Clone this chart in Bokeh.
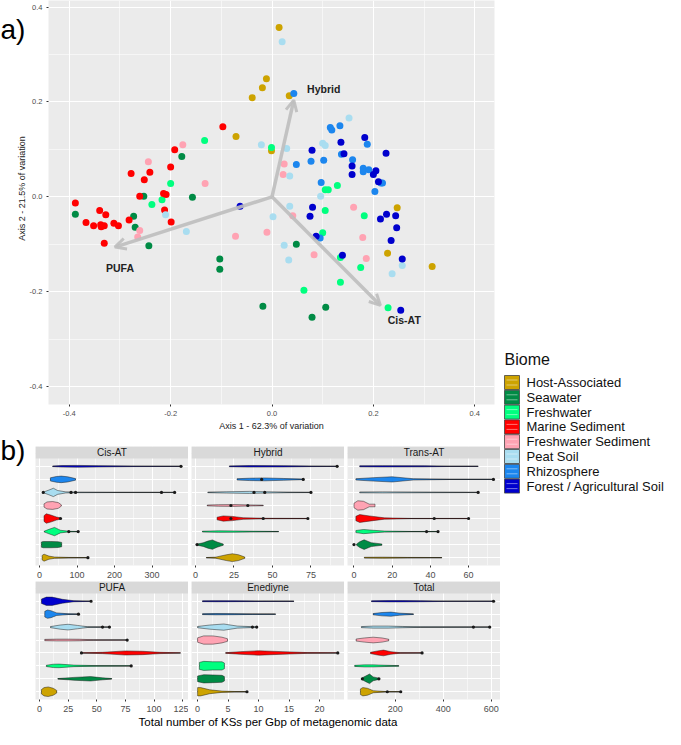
import math
from bokeh.plotting import figure
from bokeh.models import (Range1d, FixedTicker, NumeralTickFormatter, Label, Arrow, OpenHead,
                          ColumnDataSource, Spacer, Grid)
from bokeh.layouts import column, row
from bokeh.embed import file_html
from bokeh.resources import INLINE
from bokeh.core.properties import value

FONT = "Liberation Sans"

BIOMES = ["Host-Associated", "Seawater", "Freshwater", "Marine Sediment",
          "Freshwater Sediment", "Peat Soil", "Rhizosphere", "Forest / Agricultural Soil"]
COLORS = ["#CDA300", "#008B45", "#00FF7F", "#FF0000", "#FFA3B3", "#A9DDF0", "#1C86EE", "#0000CD"]

# ---------------- panel a: PCoA scores ----------------
HOST_X = [0.014, -0.011, -0.019, -0.039, 0.034, -0.071, -0.001, 0.247, 0.228, 0.316]
HOST_Y = [0.357, 0.249, 0.230, 0.209, 0.213, 0.127, 0.097, -0.023, -0.119, -0.147]
SEA_X = [-0.178, -0.253, -0.157, -0.388, -0.273, -0.270, -0.243, 0.048, -0.103, -0.103, -0.018, 0.079, 0.106]
SEA_Y = [0.085, 0.001, -0.001, -0.037, -0.041, -0.064, -0.103, -0.100, -0.131, -0.153, -0.231, -0.254, -0.233]
FRESH_X = [-0.133, -0.001, -0.200, 0.105, 0.111, 0.129, -0.237, -0.217, 0.105, 0.100, 0.063, 0.135, 0.182, 0.175, 0.229, 0.135]
FRESH_Y = [0.119, 0.104, 0.028, 0.015, 0.015, 0.024, -0.016, -0.006, -0.029, -0.076, -0.197, -0.128, -0.040, -0.149, -0.234, -0.180]
MARINE_X = [-0.097, -0.192, -0.200, -0.278, -0.241, -0.252, -0.261, -0.214, -0.209, -0.388, -0.212, -0.340,
            -0.328, -0.367, -0.352, -0.338, -0.337, -0.331, -0.312, -0.303, -0.282, -0.199, -0.331]
MARINE_Y = [0.148, 0.099, 0.063, 0.049, 0.052, 0.036, 0.001, 0.007, 0.005, -0.013, -0.028, -0.029,
            -0.038, -0.054, -0.061, -0.059, -0.063, -0.061, -0.056, -0.061, -0.049, -0.053, -0.098]
FWSED_X = [-0.176, 0.024, 0.022, -0.244, -0.132, -0.261, -0.265, 0.041, -0.010, -0.072, 0.083, 0.161, 0.179, 0.186]
FWSED_Y = [0.110, 0.069, 0.047, 0.074, 0.028, -0.071, -0.085, -0.040, -0.075, -0.083, -0.122, -0.022, -0.086, -0.130]
PEAT_X = [0.020, -0.021, 0.029, 0.035, 0.100, 0.105, 0.152, 0.096, -0.210, -0.169, 0.002, 0.035, 0.024, 0.033, 0.257, 0.237]
PEAT_Y = [0.327, 0.110, 0.102, 0.044, 0.113, 0.108, 0.166, 0.001, -0.038, -0.073, -0.042, -0.020, -0.102, -0.133, -0.145, -0.162]
RHIZO_X = [0.043, 0.048, 0.077, 0.102, 0.115, 0.118, 0.134, 0.137, 0.097, 0.188, 0.159, 0.180, 0.180, 0.191,
           0.215, 0.218, 0.203, 0.095]
RHIZO_Y = [0.218, 0.068, 0.075, 0.077, 0.146, 0.141, 0.150, 0.090, 0.030, 0.111, 0.078, 0.060, 0.053, 0.057,
           0.029, 0.029, 0.011, -0.087]
FOREST_X = [0.079, 0.136, 0.183, 0.142, 0.225, 0.158, 0.158, 0.205, 0.200, 0.210, 0.226, 0.244, 0.214, 0.246,
            0.235, 0.257, 0.254, -0.063, 0.080, 0.075, 0.087, 0.139]
FOREST_Y = [0.098, 0.115, 0.125, 0.091, 0.092, 0.065, 0.047, 0.055, 0.047, 0.032, -0.037, -0.040, -0.047, -0.065,
            -0.092, -0.131, -0.239, -0.020, -0.022, -0.041, -0.083, -0.123]

PCOA_X = [HOST_X, SEA_X, FRESH_X, MARINE_X, FWSED_X, PEAT_X, RHIZO_X, FOREST_X]
PCOA_Y = [HOST_Y, SEA_Y, FRESH_Y, MARINE_Y, FWSED_Y, PEAT_Y, RHIZO_Y, FOREST_Y]

ARROW_NAMES = ["Hybrid", "PUFA", "Cis-AT"]
ARROW_X = [0.043, -0.310, 0.214]
ARROW_Y = [0.204, -0.106, -0.229]
ARROW_LABEL_X = [0.102, -0.300, 0.261]
ARROW_LABEL_Y = [0.228, -0.150, -0.259]

AXIS_TICKS = [-0.4, -0.2, 0.0, 0.2, 0.4]
AXIS1_LIM = (-0.441, 0.439)
AXIS2_LIM = (-0.438, 0.414)
AXIS1_TITLE = "Axis 1 - 62.3% of variation"
AXIS2_TITLE = "Axis 2 - 21.5% of variation"

# ---------------- panel b: violins (rows listed top -> bottom) ----------------
# Forest, Rhizosphere, Peat Soil, Freshwater Sediment, Marine Sediment, Freshwater, Seawater, Host-Associated
FACET_NAMES = ["Cis-AT", "Hybrid", "Trans-AT", "PUFA", "Enediyne", "Total"]
FACET_LIMS = [(-10.7, 397), (-2.6, 96.8), (-3.4, 76.7), (-3.5, 130), (-1.0, 24.1), (1, 639)]
FACET_TICKS = [[0, 100, 200, 300], [0, 25, 50, 75], [0, 20, 40, 60],
               [0, 25, 50, 75, 100, 125], [0, 5, 10, 15, 20], [200, 400, 600]]

CIS_X = [[35, 60, 100, 158, 250, 377], [29, 45, 58, 75, 96], [10, 25, 37, 48, 70, 100, 200, 325, 360],
         [12, 20, 35, 50, 58], [12, 18, 30, 45, 56], [12, 25, 40, 56, 80, 103], [5, 10, 30, 50, 59],
         [7, 12, 25, 40, 78, 129]]
CIS_W = [[0.02, 0.06, 0.07, 0.05, 0.02, 0.01], [0.12, 0.22, 0.25, 0.2, 0.06],
         [0.02, 0.18, 0.32, 0.15, 0.04, 0.02, 0.01, 0.01, 0.01], [0.12, 0.27, 0.3, 0.22, 0.05],
         [0.22, 0.36, 0.27, 0.12, 0.05], [0.02, 0.17, 0.32, 0.1, 0.02, 0.01], [0.2, 0.24, 0.24, 0.22, 0.17],
         [0.17, 0.27, 0.12, 0.05, 0.02, 0.01]]
CIS_PTS = [[377], [], [10, 84, 96, 325, 360], [], [56], [78, 103], [], [129]]

HYB_X = [[22, 35, 57, 75, 92], [27, 35, 45, 57, 70], [8, 20, 35, 45, 60, 75], [7.6, 15, 25, 35, 44],
         [14, 18, 24, 31, 45, 73], [4.5, 15, 25, 36, 54], [1, 5, 8, 11, 14, 18], [7, 13, 20, 24, 28, 32]]
HYB_W = [[0.03, 0.06, 0.05, 0.02, 0.01], [0.05, 0.09, 0.11, 0.07, 0.02], [0.02, 0.05, 0.08, 0.05, 0.02, 0.01],
         [0.03, 0.06, 0.07, 0.04, 0.02], [0.1, 0.2, 0.16, 0.06, 0.02, 0.01], [0.03, 0.06, 0.05, 0.03, 0.01],
         [0.04, 0.14, 0.27, 0.36, 0.2, 0.05], [0.01, 0.04, 0.22, 0.3, 0.22, 0.05]]
HYB_PTS = [[92], [43, 70], [38, 45, 75], [23, 34], [23, 44, 73], [], [1], []]

TRANS_X = [[3, 15, 37, 50, 65], [1, 10, 20, 31, 50, 73], [3, 15, 30, 45, 65], [0, 2, 5, 8, 11],
           [1, 3, 8, 16, 30, 60], [1, 5, 10, 16, 30, 44], [1.4, 3, 5.3, 9, 14.6], [5.4, 15, 28, 46]]
TRANS_W = [[0.04, 0.05, 0.04, 0.01, 0.01], [0.05, 0.13, 0.2, 0.05, 0.01, 0.01], [0.03, 0.04, 0.03, 0.02, 0.01],
           [0.17, 0.36, 0.32, 0.1, 0.1], [0.17, 0.3, 0.2, 0.05, 0.01, 0.01], [0.08, 0.16, 0.1, 0.04, 0.01, 0.01],
           [0.05, 0.22, 0.37, 0.15, 0.05], [0.03, 0.04, 0.02, 0.01]]
TRANS_PTS = [[], [73], [65], [], [42, 60], [38, 44], [0], []]

PUFA_X = [[1.7, 6, 11, 20, 30, 45], [4.6, 7, 10, 15, 25, 34], [9.6, 18, 25, 33, 42, 55, 61],
          [4.6, 15, 25, 35, 47, 76.5], [36.6, 55, 75, 90, 105, 123], [6, 12, 17, 30, 50, 80],
          [16, 30, 44.5, 55, 63], [1.7, 4, 7.6, 12, 15]]
PUFA_W = [[0.17, 0.32, 0.32, 0.15, 0.04, 0.01], [0.22, 0.32, 0.27, 0.1, 0.03, 0.01],
          [0.04, 0.16, 0.22, 0.13, 0.03, 0.01, 0.01], [0.05, 0.07, 0.07, 0.06, 0.02, 0.01],
          [0.01, 0.05, 0.16, 0.13, 0.05, 0.01], [0.05, 0.13, 0.14, 0.06, 0.02, 0.01],
          [0.02, 0.11, 0.17, 0.08, 0.02], [0.17, 0.32, 0.37, 0.27, 0.1]]
PUFA_PTS = [[45], [34], [55, 61], [76.5], [36.6], [80], [], []]

ENE_X = [[0.8, 3, 6, 10, 15.8], [0.8, 3, 6, 9, 12.8], [0, 2, 4.3, 6.5, 9.7], [0, 1, 2.5, 4, 4.9],
         [4.6, 7, 10, 14, 18, 23], [0.3, 1, 2.5, 4, 4.4], [0, 1, 2.5, 4, 4.4], [0, 0.5, 2, 4, 6, 8.1]]
ENE_W = [[0.03, 0.04, 0.03, 0.02, 0.01], [0.03, 0.05, 0.04, 0.02, 0.01], [0.05, 0.16, 0.24, 0.08, 0.02],
         [0.17, 0.32, 0.32, 0.22, 0.1], [0.02, 0.1, 0.17, 0.1, 0.03, 0.01], [0.27, 0.35, 0.32, 0.32, 0.22],
         [0.22, 0.32, 0.3, 0.27, 0.17], [0.32, 0.32, 0.15, 0.05, 0.02, 0.01]]
ENE_PTS = [[], [], [9, 9.7], [], [23], [], [], [8.1]]

TOT_X = [[101, 170, 231, 305, 416, 610], [108, 145, 182, 219, 276], [59, 108, 170, 231, 305, 594],
         [37, 71, 108, 145, 173], [97, 127, 151, 182, 221, 312], [31, 71, 108, 157, 215],
         [63, 77, 93, 108, 132], [55, 65, 84, 109, 157, 223]]
TOT_W = [[0.03, 0.05, 0.05, 0.04, 0.01, 0.01], [0.05, 0.13, 0.16, 0.08, 0.02], [0.04, 0.08, 0.08, 0.05, 0.02, 0.01],
         [0.08, 0.16, 0.22, 0.16, 0.06], [0.05, 0.16, 0.22, 0.1, 0.02, 0.01], [0.04, 0.08, 0.08, 0.05, 0.02],
         [0.08, 0.22, 0.37, 0.15, 0.05], [0.22, 0.32, 0.27, 0.08, 0.02, 0.01]]
TOT_PTS = [[610], [], [526, 594], [], [312], [], [63, 132], [167, 223]]

FACET_X = [CIS_X, HYB_X, TRANS_X, PUFA_X, ENE_X, TOT_X]
FACET_W = [CIS_W, HYB_W, TRANS_W, PUFA_W, ENE_W, TOT_W]
FACET_PTS = [CIS_PTS, HYB_PTS, TRANS_PTS, PUFA_PTS, ENE_PTS, TOT_PTS]

X_TITLE = "Total number of KSs per Gbp of metagenomic data"
LEGEND_TITLE = "Biome"

# ---------------- layout constants (pixels) ----------------
TAG_W = 26                     # column holding "a)" and the y-axis title
A_LEFT, A_FRAME_W, A_RIGHT = 19, 449, 6
A_TOP, A_FRAME_H, A_BOTTOM = 0, 404, 30
A_H = A_TOP + A_FRAME_H + A_BOTTOM
B_TAG_W = 35
F_FRAME_W = 153
STRIP = 12
ROW_ORDER_COLORS = list(reversed(COLORS))


def style_axis(ax, size):
    ax.axis_line_color = None
    ax.major_tick_line_color = "#333333"
    ax.major_tick_out = 2
    ax.major_tick_in = 0
    ax.minor_tick_line_color = None
    ax.major_label_text_font = FONT
    ax.major_label_text_font_size = size
    ax.major_label_text_color = "#4D4D4D"
    ax.major_label_standoff = 2


def blank(w, h):
    p = figure(width=w, height=h, x_range=Range1d(0, w), y_range=Range1d(h, 0),
               output_backend="svg", toolbar_location=None, title=None,
               x_axis_location=None, y_axis_location=None, min_border=0)
    p.outline_line_color = None
    p.grid.grid_line_color = None
    p.grid.visible = False
    return p


# ---------------- panel a ----------------
pa = figure(width=A_LEFT + A_FRAME_W + A_RIGHT, height=A_H,
            x_range=Range1d(*AXIS1_LIM), y_range=Range1d(*AXIS2_LIM),
            output_backend="svg", toolbar_location=None, title=None,
            min_border_left=A_LEFT, min_border_right=A_RIGHT, min_border_top=A_TOP, min_border_bottom=A_BOTTOM)
pa.background_fill_color = "#EBEBEB"
pa.outline_line_color = None
minor_a = [t + 0.1 for t in AXIS_TICKS[:-1]]
for ax in (pa.xaxis[0], pa.yaxis[0]):
    style_axis(ax, "7.5px")
    ax.ticker = FixedTicker(ticks=AXIS_TICKS, minor_ticks=minor_a)
    ax.formatter = NumeralTickFormatter(format="0.0")
    ax.axis_label_text_font = FONT
    ax.axis_label_text_font_size = "9px"
    ax.axis_label_text_font_style = "normal"
    ax.axis_label_text_color = "#222222"
    ax.axis_label_standoff = 2
pa.xaxis.axis_label = AXIS1_TITLE
for g in (pa.xgrid[0], pa.ygrid[0]):
    g.ticker = FixedTicker(ticks=AXIS_TICKS, minor_ticks=minor_a)
    g.grid_line_color = "white"
    g.grid_line_width = 1.1
    g.minor_grid_line_color = "white"
    g.minor_grid_line_width = 0.55

for xs, ys, c in zip(PCOA_X, PCOA_Y, COLORS):
    pa.scatter(x=xs, y=ys, size=7, fill_color=c, line_color=None)

arrow_src = ColumnDataSource(dict(x0=[0.0] * len(ARROW_X), y0=[0.0] * len(ARROW_Y), x1=ARROW_X, y1=ARROW_Y))
pa.add_layout(Arrow(source=arrow_src, x_start="x0", y_start="y0", x_end="x1", y_end="y1",
                    line_color="#BEBEBE", line_width=3.5, line_alpha=0.9,
                    end=OpenHead(size=11, line_color="#BEBEBE", line_width=3, line_alpha=0.9)))
pa.text(x=ARROW_LABEL_X, y=ARROW_LABEL_Y, text=ARROW_NAMES, text_font=value(FONT),
        text_font_size="10.5px", text_font_style="bold", text_color="#222222",
        text_align="center", text_baseline="middle")

# column left of panel a: "a)" tag and the y-axis title
ta = blank(TAG_W, A_H)
ta.text(x=[0], y=[31], text=["a)"], text_font=value(FONT), text_font_size="28px", text_color="black",
        text_align="left", text_baseline="middle")
ta.text(x=[21], y=[A_TOP + A_FRAME_H / 2], text=[AXIS2_TITLE], angle=math.pi / 2, text_font=value(FONT),
        text_font_size="9px", text_color="#222222", text_align="center", text_baseline="middle")


# ---------------- panel b ----------------
def facet(i, left, top, panel_h, bottom):
    lim = FACET_LIMS[i]
    ticks = FACET_TICKS[i]
    step = ticks[1] - ticks[0]
    minors = [t + step / 2 for t in [ticks[0] - step] + ticks]
    units_per_px = 8.2 / panel_h
    y_top = 0.4 - STRIP * units_per_px
    p = figure(width=left + F_FRAME_W, height=top + STRIP + panel_h + bottom,
               x_range=Range1d(*lim), y_range=Range1d(8.6, y_top),
               output_backend="svg", toolbar_location=None, title=None, y_axis_location=None,
               min_border_left=left, min_border_right=0, min_border_top=top, min_border_bottom=bottom)
    p.background_fill_color = "#EBEBEB"
    p.outline_line_color = None
    style_axis(p.xaxis[0], "9px")
    p.xaxis.ticker = FixedTicker(ticks=ticks, minor_ticks=minors)
    g = p.xgrid[0]
    g.ticker = FixedTicker(ticks=ticks, minor_ticks=minors)
    g.grid_line_color = "white"
    g.grid_line_width = 1.0
    g.minor_grid_line_color = "white"
    g.minor_grid_line_width = 0.5
    p.add_layout(Grid(dimension=1, ticker=FixedTicker(ticks=list(range(1, 9))),
                      grid_line_color="white", grid_line_width=1.0))
    pxs, pys, cols, seg_x0, seg_x1, seg_y, dot_x, dot_y = [], [], [], [], [], [], [], []
    for r in range(8):
        xs = FACET_X[i][r]
        ws = FACET_W[i][r]
        yc = r + 1
        pxs.append(list(xs) + list(reversed(xs)))
        pys.append([yc - w for w in ws] + [yc + w for w in reversed(ws)])
        cols.append(ROW_ORDER_COLORS[r])
        seg_x0.append(xs[0]); seg_x1.append(xs[-1]); seg_y.append(yc)
        for v in FACET_PTS[i][r]:
            dot_x.append(v); dot_y.append(yc)
    p.segment(x0=seg_x0, y0=seg_y, x1=seg_x1, y1=seg_y, line_color="#1A1A1A", line_width=0.9)
    p.patches(xs=pxs, ys=pys, fill_color=cols, line_color="#1A1A1A", line_width=0.6, line_alpha=0.8)
    p.scatter(x=dot_x, y=dot_y, size=3.2, fill_color="#1A1A1A", line_color=None)
    p.quad(left=[lim[0]], right=[lim[1]], top=[y_top], bottom=[0.4], fill_color="#D9D9D9", line_color=None)
    p.add_layout(Label(x=(lim[0] + lim[1]) / 2, y=(0.4 + y_top) / 2, text=FACET_NAMES[i], text_font=FONT,
                       text_font_size="10px", text_color="#1A1A1A", text_align="center",
                       text_baseline="middle"))
    return p


R1_TOP, R1_PANEL, R1_BOTTOM = 12, 107, 16
R2_TOP, R2_PANEL, R2_BOTTOM = 0, 106, 15
f1 = facet(0, 0, R1_TOP, R1_PANEL, R1_BOTTOM)
f2 = facet(1, 3, R1_TOP, R1_PANEL, R1_BOTTOM)
f3 = facet(2, 3, R1_TOP, R1_PANEL, R1_BOTTOM)
f4 = facet(3, 0, R2_TOP, R2_PANEL, R2_BOTTOM)
f5 = facet(4, 3, R2_TOP, R2_PANEL, R2_BOTTOM)
f6 = facet(5, 3, R2_TOP, R2_PANEL, R2_BOTTOM)

B_H = (R1_TOP + STRIP + R1_PANEL + R1_BOTTOM) + (R2_TOP + STRIP + R2_PANEL + R2_BOTTOM)
tb = blank(B_TAG_W, B_H)
tb.text(x=[0], y=[R1_TOP + 4], text=["b)"], text_font=value(FONT), text_font_size="28px", text_color="black",
        text_align="left", text_baseline="middle")

XT_H = 14
xt = blank(B_TAG_W + F_FRAME_W + 2 * (3 + F_FRAME_W), XT_H)
xt.text(x=[B_TAG_W + F_FRAME_W + 3 + F_FRAME_W / 2], y=[XT_H / 2], text=[X_TITLE], text_font=value(FONT),
        text_font_size="11.5px", text_color="black", text_align="center", text_baseline="middle")

# ---------------- legend (drawn as its own small panel) ----------------
LEG_W, LEG_H = 165, 148
pl = blank(LEG_W, LEG_H)
key_x0, key_w, key_h, pitch, first = 4, 15, 14, 14.8, 32
key_y = [first + k * pitch for k in range(len(BIOMES))]
pl.text(x=[key_x0], y=[9], text=[LEGEND_TITLE], text_font=value(FONT), text_font_size="16px",
        text_color="#111111", text_align="left", text_baseline="middle")
pl.rect(x=[key_x0 + key_w / 2] * len(BIOMES), y=key_y, width=key_w, height=key_h,
        fill_color=COLORS, line_color="#444444", line_width=0.8)
for off in (-2.5, 2.5):
    pl.segment(x0=[key_x0 + 2] * len(BIOMES), x1=[key_x0 + key_w - 2] * len(BIOMES),
               y0=[y + off for y in key_y], y1=[y + off for y in key_y],
               line_color="white", line_alpha=0.45, line_width=1)
pl.text(x=[key_x0 + key_w + 7] * len(BIOMES), y=key_y, text=BIOMES, text_font=value(FONT),
        text_font_size="13px", text_color="#111111", text_align="left", text_baseline="middle")

top_row = row(ta, pa)
facet_block = row(tb, column(row(f1, f2, f3), row(f4, f5, f6)))
left_col = column(top_row, facet_block, xt)
right_col = column(Spacer(width=LEG_W, height=A_H + R1_TOP - 96), pl)
layout = row(left_col, right_col)

open("out.html", "w").write(file_html(layout, INLINE, "Biome PCoA"))
